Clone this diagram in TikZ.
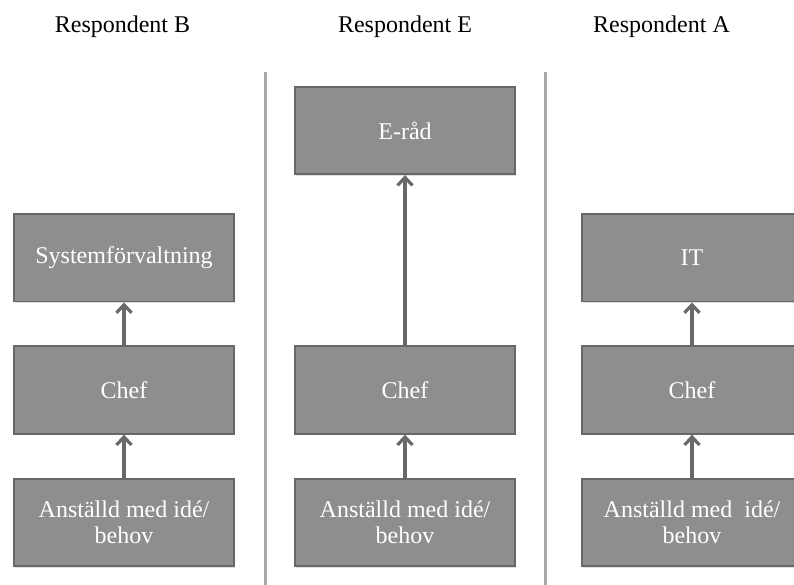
\documentclass[tikz,border=0pt]{standalone}
\usepackage{fontspec}
\setmainfont{Liberation Serif}
\usetikzlibrary{arrows.meta,shadows}
\definecolor{boxfill}{HTML}{8E8E8E}
\definecolor{boxline}{HTML}{686862}
\definecolor{arrowcol}{HTML}{696969}
\definecolor{divider}{HTML}{A8A8A8}
\tikzset{
  level/.style={draw=boxline, fill=boxfill, line width=1.8pt,
    minimum width=220pt, minimum height=87.5pt, inner sep=2pt,
    align=center, text=white, font=\fontsize{24}{26.5}\selectfont,
    drop shadow={shadow xshift=1pt, shadow yshift=-1.5pt, opacity=0.25}},
  header/.style={anchor=base, font=\fontsize{24}{26.5}\selectfont, text=black},
  upflow/.style={draw=arrowcol, line width=3.2pt,
    -{Straight Barb[length=8pt,width=15pt,line width=3.2pt]}},
  colrule/.style={draw=divider, line width=3pt}
}
\begin{document}
\begin{tikzpicture}[x=1pt,y=-1pt]
  \useasboundingbox (0,0) rectangle (794,585);
  \clip (0,0) rectangle (794,585);

  % column headings
  \node[header] (hB) at (122.5,33) {Respondent B};
  \node[header] (hE) at (405,33) {Respondent E};
  \node[header] (hA) at (661.5,33) {Respondent A};

  % separators between the columns
  \draw[colrule] (265.7,72) -- (265.7,590);
  \draw[colrule] (545.7,72) -- (545.7,590);

  % Respondent B
  \node[level] (b1) at (124,257.8) {Systemförvaltning};
  \node[level] (b2) at (124,390) {Chef};
  \node[level] (b3) at (124,522.5) {Anställd med idé/\\behov};
  \draw[upflow] (b3) -- (b2);
  \draw[upflow] (b2) -- (b1);

  % Respondent E
  \node[level] (e1) at (405,130.5) {E-råd};
  \node[level] (e2) at (405,390) {Chef};
  \node[level] (e3) at (405,522.5) {Anställd med idé/\\behov};
  \draw[upflow] (e3) -- (e2);
  \draw[upflow] (e2) -- (e1);

  % Respondent A
  \node[level] (a1) at (692,257.8) {IT};
  \node[level] (a2) at (692,390) {Chef};
  \node[level] (a3) at (692,522.5) {Anställd med\ \ idé/\\behov};
  \draw[upflow] (a3) -- (a2);
  \draw[upflow] (a2) -- (a1);
\end{tikzpicture}
\end{document}
